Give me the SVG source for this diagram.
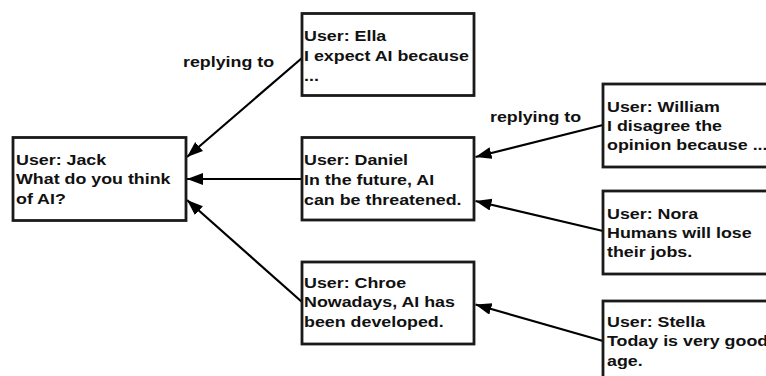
<svg xmlns="http://www.w3.org/2000/svg" width="766" height="376" viewBox="0 0 766 376">
<style>
.box{fill:#fff;stroke:#1a1a1a;stroke-width:2.8}
.t{font-family:"Liberation Sans",Arial,sans-serif;font-weight:bold;font-size:15px;fill:#111}
.edge{stroke:#000;stroke-width:2.2;fill:none;marker-end:url(#arr)}
</style>
<defs>
<marker id="arr" markerUnits="userSpaceOnUse" markerWidth="17" markerHeight="13" refX="16" refY="6" orient="auto">
<path d="M0,0 L16,6 L0,12 z" fill="#000"/>
</marker>
</defs>
<rect width="766" height="376" fill="#fff"/>
<g id="connectors">
<line class="edge" x1="302" y1="58" x2="187" y2="157"/>
<line class="edge" x1="302" y1="179" x2="187" y2="179"/>
<line class="edge" x1="302" y1="302" x2="187" y2="200"/>
<line class="edge" x1="603" y1="125" x2="475.5" y2="157"/>
<line class="edge" x1="603" y1="231" x2="475.5" y2="201"/>
<line class="edge" x1="603" y1="341" x2="475.5" y2="304.5"/>
</g>
<g id="labels">
<text class="t" transform="translate(183 67) scale(1.19 1)">replying to</text>
<text class="t" transform="translate(490 121.5) scale(1.19 1)">replying to</text>
</g>
<g id="jack">
<rect class="box" x="13" y="137.5" width="173" height="83"/>
<text class="t" transform="translate(16 165) scale(1.19 1)"><tspan x="0" y="0">User: Jack</tspan><tspan x="0" y="19.5">What do you think</tspan><tspan x="0" y="39">of AI?</tspan></text>
</g>
<g id="ella">
<rect class="box" x="302" y="13.5" width="172" height="82"/>
<text class="t" transform="translate(304 41) scale(1.19 1)"><tspan x="0" y="0">User: Ella</tspan><tspan x="0" y="20">I expect AI because</tspan><tspan x="0" y="40">...</tspan></text>
</g>
<g id="daniel">
<rect class="box" x="302" y="137.5" width="172" height="82.5"/>
<text class="t" transform="translate(304 165) scale(1.19 1)"><tspan x="0" y="0">User: Daniel</tspan><tspan x="0" y="20">In the future, AI</tspan><tspan x="0" y="40">can be threatened.</tspan></text>
</g>
<g id="chroe">
<rect class="box" x="302" y="262" width="172" height="82"/>
<text class="t" transform="translate(304 287.5) scale(1.19 1)"><tspan x="0" y="0">User: Chroe</tspan><tspan x="0" y="20">Nowadays, AI has</tspan><tspan x="0" y="40">been developed.</tspan></text>
</g>
<g id="william">
<rect class="box" x="603" y="84" width="172" height="83"/>
<text class="t" transform="translate(607 111.5) scale(1.19 1)"><tspan x="0" y="0">User: William</tspan><tspan x="0" y="19.5">I disagree the</tspan><tspan x="0" y="39">opinion because ...</tspan></text>
</g>
<g id="nora">
<rect class="box" x="603" y="191" width="172" height="83"/>
<text class="t" transform="translate(607 218.5) scale(1.19 1)"><tspan x="0" y="0">User: Nora</tspan><tspan x="0" y="19.5">Humans will lose</tspan><tspan x="0" y="39">their jobs.</tspan></text>
</g>
<g id="stella">
<rect class="box" x="603" y="301" width="172" height="83"/>
<text class="t" transform="translate(607 327) scale(1.19 1)"><tspan x="0" y="0">User: Stella</tspan><tspan x="0" y="19.5">Today is very good</tspan><tspan x="0" y="39">age.</tspan></text>
</g>
</svg>
